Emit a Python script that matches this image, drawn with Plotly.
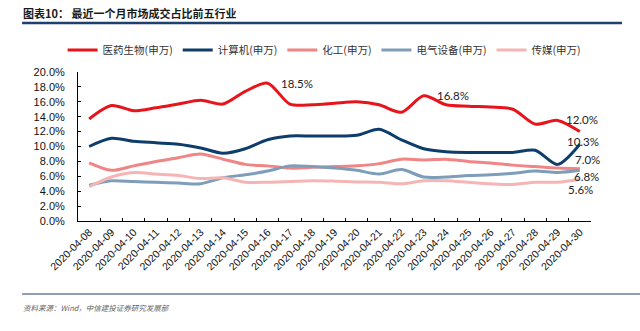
import plotly.graph_objects as go

# Trading dates (category axis)
dates = [f"2020-04-{d:02d}" for d in range(8, 31)]

# Turnover share of the top-five industries, percent
yiyao = [13.7, 15.5, 14.8, 15.2, 15.7, 16.2, 15.7, 17.4, 18.5, 15.7, 15.6, 15.8,
         16.0, 15.6, 14.6, 16.8, 15.6, 15.4, 15.3, 15.0, 13.0, 13.5, 12.0]
jisuanji = [10.0, 11.1, 10.7, 10.5, 10.3, 9.8, 9.1, 9.7, 10.9, 11.4, 11.4, 11.4,
            11.5, 12.3, 10.9, 9.7, 9.3, 9.2, 9.2, 9.2, 9.5, 7.6, 10.3]
huagong = [7.8, 6.8, 7.4, 8.0, 8.5, 9.0, 8.3, 7.6, 7.4, 7.1, 7.2, 7.3,
           7.4, 7.7, 8.3, 8.2, 8.3, 8.0, 7.8, 7.5, 7.3, 7.1, 7.0]
dianqi = [4.8, 5.4, 5.3, 5.2, 5.1, 5.0, 5.8, 6.2, 6.7, 7.4, 7.3, 7.1,
          6.8, 6.3, 6.9, 5.9, 5.9, 6.1, 6.2, 6.4, 6.7, 6.5, 6.8]
chuanmei = [4.6, 5.9, 6.5, 6.3, 6.1, 5.7, 5.8, 5.2, 5.2, 5.3, 5.4, 5.35,
            5.25, 5.2, 5.0, 5.4, 5.4, 5.2, 5.0, 4.9, 5.2, 5.2, 5.6]

series_names = ["医药生物(申万)", "计算机(申万)", "化工(申万)", "电气设备(申万)", "传媒(申万)"]
series_values = [yiyao, jisuanji, huagong, dianqi, chuanmei]
series_colors = ["#E8141B", "#0E3D6B", "#F08585", "#7E9DB8", "#F5B5B5"]

CJK = "Noto Sans CJK SC"
NUM = "Liberation Sans, Arial"

fig = go.Figure()
for name, vals, col in zip(series_names, series_values, series_colors):
    fig.add_trace(go.Scatter(
        x=dates, y=vals, name=name, mode="lines",
        line=dict(color=col, width=3, shape="spline", smoothing=0.8),
        hoverinfo="skip",
    ))

# Value callouts: (series index, date index, xanchor, xshift, yshift)
callouts = [
    (0, 8, "left", 11, 0),
    (0, 15, "left", 11, 0),
    (0, 22, "center", 2, 12),
    (1, 22, "center", 3, 3),
    (2, 22, "center", 8, 9),
    (3, 22, "center", 7, -6),
    (4, 22, "center", 1, -10),
]
for si, di, anchor, xs, ys in callouts:
    v = series_values[si][di]
    fig.add_annotation(
        x=dates[di], y=v, text=f"{v:.1f}%", showarrow=False,
        xanchor=anchor, yanchor="middle", xshift=xs, yshift=ys,
        font=dict(family="Lato, Liberation Sans", size=11.5, color="#222222"),
    )

# Header and footer
fig.add_annotation(
    xref="paper", yref="paper", x=-0.111, y=1.396, xanchor="left", yanchor="middle",
    text="<b>图表10： 最近一个月市场成交占比前五行业</b>", showarrow=False,
    font=dict(family=CJK, size=11, color="#1a1a1a"),
)
fig.add_shape(type="line", xref="paper", yref="paper",
              x0=-0.109, x1=1.0604, y0=1.329, y1=1.329,
              line=dict(color="#1F3F6E", width=2.5))
fig.add_shape(type="line", xref="paper", yref="paper",
              x0=-0.109, x1=1.1476, y0=-0.49, y1=-0.49,
              line=dict(color="#1F3F73", width=1))
fig.add_annotation(
    xref="paper", yref="paper", x=-0.111, y=-0.583, xanchor="left", yanchor="middle",
    text="<i>资料来源：Wind，中信建投证券研究发展部</i>", showarrow=False,
    font=dict(family=CJK, size=7.5, color="#666666"),
)

fig.update_layout(
    width=640, height=331,
    margin=dict(l=78, r=49, t=72, b=110),
    paper_bgcolor="white", plot_bgcolor="white",
    showlegend=True,
    legend=dict(
        orientation="h", x=-0.03, y=1.148, xanchor="left", yanchor="middle",
        font=dict(family=CJK, size=10.5, color="#333333"),
        itemwidth=30, tracegroupgap=0, bgcolor="rgba(0,0,0,0)",
    ),
    xaxis=dict(
        type="category", range=[-0.5, len(dates) - 0.5],
        showline=True, linecolor="#000000", linewidth=1,
        ticks="inside", ticklen=3, tickcolor="#000000", tickson="boundaries",
        tickangle=-45, tickfont=dict(family=NUM, size=10.5, color="#111111"),
        showgrid=False, zeroline=False, fixedrange=True,
    ),
    # labelled value axis; its outside ticks are blank and only push the labels left
    yaxis=dict(
        range=[0, 20], dtick=2, tickformat=".1f", ticksuffix="%",
        showline=True, linecolor="#000000", linewidth=1,
        ticks="outside", ticklen=10, tickcolor="rgba(0,0,0,0)",
        tickfont=dict(family=NUM, size=11, color="#111111"),
        showgrid=False, zeroline=False, fixedrange=True,
    ),
    # companion axis carrying the short inside tick marks
    yaxis2=dict(
        overlaying="y", side="left", range=[0, 20], dtick=2,
        showticklabels=False, showline=False,
        ticks="inside", ticklen=3, tickcolor="#000000",
        showgrid=False, zeroline=False, fixedrange=True,
    ),
)

# an empty trace keeps the companion axis drawn
fig.add_trace(go.Scatter(x=[dates[0]], y=[None], yaxis="y2", showlegend=False,
                         hoverinfo="skip", mode="lines"))

fig.write_html("out.html")
